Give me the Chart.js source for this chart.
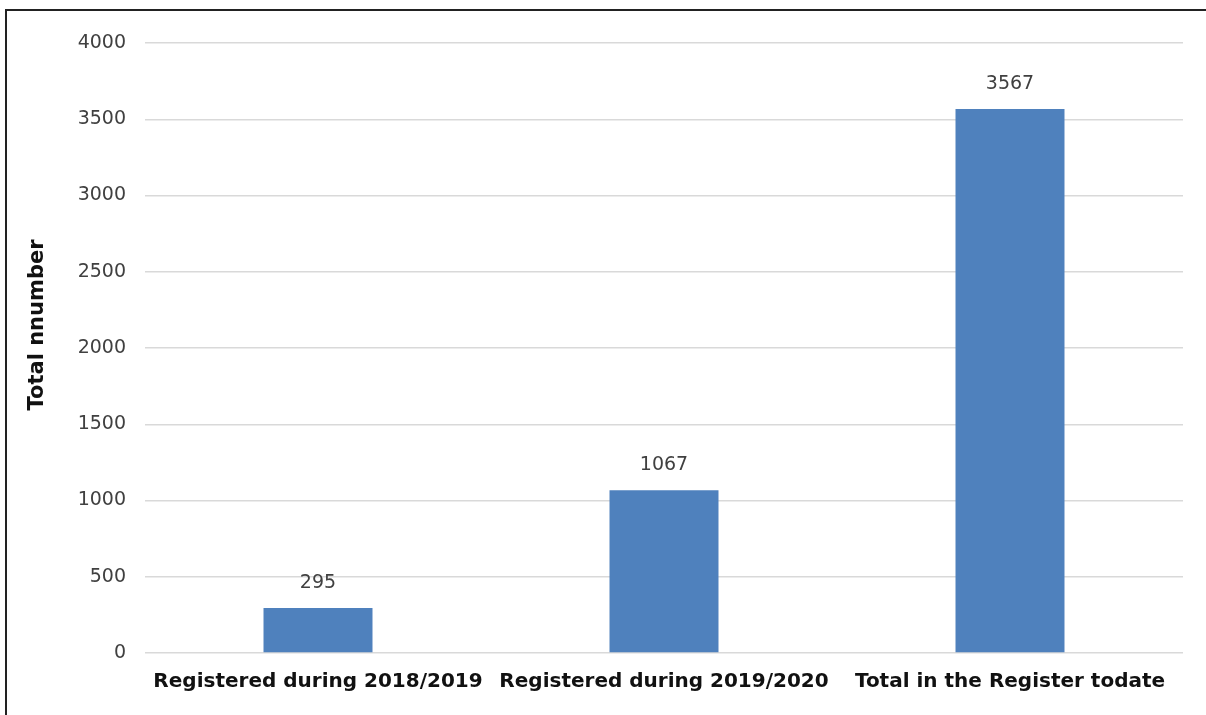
<!DOCTYPE html>
<html>
<head>
<meta charset="utf-8">
<script src="https://cdn.jsdelivr.net/npm/chart.js@4"></script>
<style>
  html, body { margin: 0; padding: 0; background: #fff; }
  #wrap { position: relative; width: 1206px; height: 715px; }
  #frame { position: absolute; left: 5px; top: 9px; right: 0; bottom: 0;
           border-top: 2px solid #222; border-left: 2px solid #222; }
  canvas { position: absolute; left: 0; top: 0; }
</style>
</head>
<body>
<div id="wrap">
  <div id="frame"></div>
  <canvas id="regChart" width="1206" height="715"></canvas>
</div>
<script>
// Registrations
const categories = ['Registered during 2018/2019', 'Registered during 2019/2020', 'Total in the Register todate'];
const totals = [295, 1067, 3567];
const yTitle = 'Total nnumber';

// value labels above the bars + rotated y title
const labelPlugin = {
    id: 'labels',
    afterDatasetsDraw(chart) {
        const ctx = chart.ctx;
        const meta = chart.getDatasetMeta(0);
        ctx.save();
        ctx.fillStyle = '#404040';
        ctx.font = '19px "DejaVu Sans"';
        ctx.textAlign = 'center';
        ctx.textBaseline = 'middle';
        meta.data.forEach((bar, i) => {
            ctx.fillText(String(totals[i]), bar.x, bar.y - 25);
        });
        ctx.translate(38, 325);
        ctx.rotate(-Math.PI / 2);
        ctx.fillStyle = '#111';
        ctx.font = 'bold 21px "DejaVu Sans"';
        ctx.fillText(yTitle, 0, 0);
        ctx.restore();
    }
};

const regCtx = document.getElementById('regChart').getContext('2d');
new Chart(regCtx, {
    type: 'bar',
    data: {
        labels: categories,
        datasets: [{
            data: totals,
            backgroundColor: '#4F81BD',
            categoryPercentage: 1,
            barPercentage: 0.315
        }]
    },
    options: {
        responsive: false,
        animation: false,
        layout: { padding: { top: 43, right: 23, left: 0, bottom: 0 } },
        plugins: {
            legend: { display: false },
            tooltip: { enabled: false }
        },
        scales: {
            x: {
                grid: { display: false, drawTicks: false },
                border: { display: false },
                ticks: {
                    color: '#111',
                    font: { family: 'DejaVu Sans', size: 20, weight: 'bold' },
                    padding: 17,
                    maxRotation: 0
                },
                afterFit(scale) { scale.height = 62; }
            },
            y: {
                min: 0,
                max: 4000,
                grid: { color: '#d9d9d9', lineWidth: 1.5, drawTicks: false },
                border: { display: false },
                ticks: {
                    stepSize: 500,
                    color: '#404040',
                    font: { family: 'DejaVu Sans', size: 19 },
                    padding: 19,
                    callback: (v) => String(v)
                },
                afterFit(scale) { scale.width = 145; }
            }
        }
    },
    plugins: [labelPlugin]
});
</script>
</body>
</html>
